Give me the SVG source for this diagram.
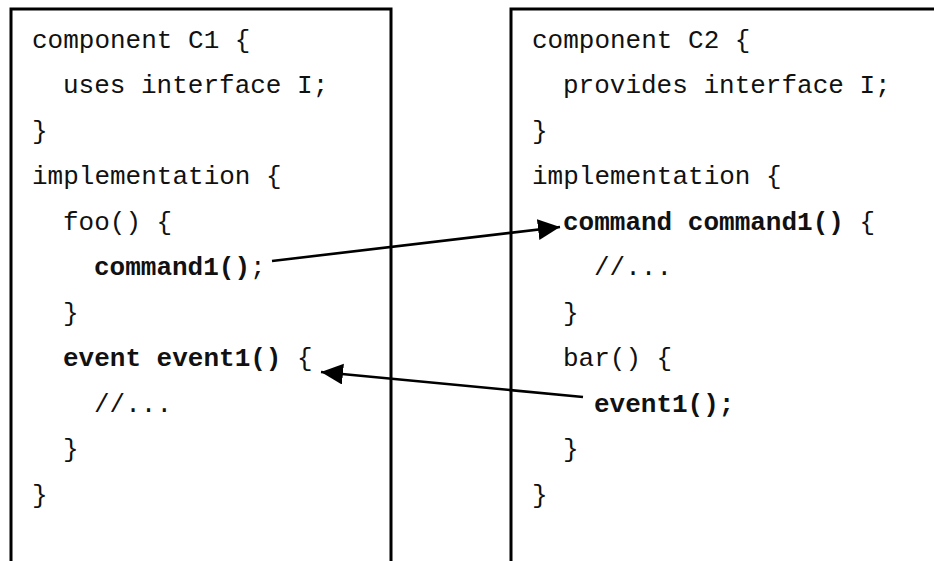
<svg xmlns="http://www.w3.org/2000/svg" width="934" height="561" viewBox="0 0 934 561">
  <style>
    .box { fill: none; stroke: #000; stroke-width: 3; }
    .code { font-family: "Liberation Mono", "Courier New", monospace; font-size: 26px; fill: #111; white-space: pre; }
    .b { font-weight: bold; }
    .link { stroke: #000; stroke-width: 2.6; fill: none; marker-end: url(#head); }
  </style>
  <defs>
    <marker id="head" markerUnits="userSpaceOnUse" markerWidth="24" markerHeight="22" refX="22" refY="10.5" orient="auto">
      <path d="M0,0 L22,10.5 L0,21 Z" fill="#000"/>
    </marker>
  </defs>

  <!-- component C1: caller of command1, handler of event1 -->
  <g id="c1">
    <path class="box" d="M11,561 V9 H391 V561"/>
    <text class="code" x="32" y="48">component C1 {</text>
    <text class="code" x="63" y="93">uses interface I;</text>
    <text class="code" x="32" y="139">}</text>
    <text class="code" x="32" y="184">implementation {</text>
    <text class="code" x="63" y="230">foo() {</text>
    <text class="code" x="94" y="275"><tspan class="b">command1()</tspan>;</text>
    <text class="code" x="63" y="321">}</text>
    <text class="code" x="63" y="366"><tspan class="b">event event1()</tspan> {</text>
    <text class="code" x="94" y="412">//...</text>
    <text class="code" x="63" y="457">}</text>
    <text class="code" x="32" y="503">}</text>
  </g>

  <!-- component C2: provider of command1, signaller of event1 -->
  <g id="c2">
    <path class="box" d="M511,561 V9 H934"/>
    <text class="code" x="532" y="48">component C2 {</text>
    <text class="code" x="563" y="93">provides interface I;</text>
    <text class="code" x="532" y="139">}</text>
    <text class="code" x="532" y="184">implementation {</text>
    <text class="code" x="563" y="230"><tspan class="b">command command1()</tspan> {</text>
    <text class="code" x="594" y="275">//...</text>
    <text class="code" x="563" y="321">}</text>
    <text class="code" x="563" y="366">bar() {</text>
    <text class="code b" x="594" y="412">event1();</text>
    <text class="code" x="563" y="457">}</text>
    <text class="code" x="532" y="503">}</text>
  </g>

  <!-- call and signal connectors -->
  <g id="connectors">
    <line class="link" x1="272" y1="261" x2="560" y2="227"/>
    <line class="link" x1="583" y1="397" x2="321" y2="372"/>
  </g>
</svg>
